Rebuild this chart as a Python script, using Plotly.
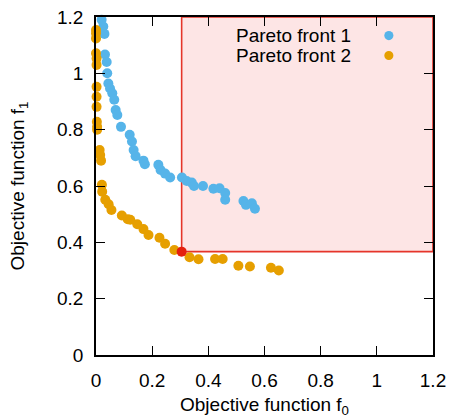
import plotly.graph_objects as go

# Pareto front 1 (blue)
front1_f0 = [0.02, 0.026, 0.03, 0.032, 0.038, 0.04, 0.044, 0.05, 0.058, 0.065, 0.07, 0.076, 0.089,
             0.12, 0.128, 0.134, 0.141, 0.169, 0.174, 0.222, 0.23, 0.246, 0.264, 0.306, 0.323,
             0.341, 0.349, 0.381, 0.418, 0.44, 0.46, 0.46, 0.525, 0.534, 0.555, 0.566]
front1_f1 = [1.19, 1.166, 1.14, 1.067, 1.04, 1.0, 0.964, 0.946, 0.929, 0.906, 0.87, 0.852, 0.81,
             0.782, 0.758, 0.728, 0.706, 0.69, 0.677, 0.675, 0.657, 0.644, 0.63, 0.63, 0.618,
             0.612, 0.6, 0.6, 0.59, 0.592, 0.575, 0.551, 0.547, 0.533, 0.539, 0.519]

# Pareto front 2 (orange)
front2_f0 = [0.0, 0.0, 0.0, 0.0, 0.002, 0.002, 0.002, 0.002, 0.002, 0.003, 0.004, 0.004, 0.013,
             0.015, 0.018, 0.021, 0.022, 0.033, 0.045, 0.055, 0.092, 0.113, 0.122, 0.147, 0.169,
             0.187, 0.226, 0.246, 0.279, 0.333, 0.365, 0.424, 0.451, 0.507, 0.548, 0.623, 0.651]
front2_f1 = [1.154, 1.142, 1.124, 1.071, 1.053, 1.03, 0.952, 0.917, 0.881, 0.828, 0.81, 0.80, 0.728,
             0.71, 0.69, 0.604, 0.58, 0.551, 0.535, 0.515, 0.495, 0.482, 0.48, 0.464, 0.447,
             0.426, 0.416, 0.395, 0.373, 0.347, 0.34, 0.341, 0.341, 0.317, 0.314, 0.31, 0.30]

# Reference point (corner of dominated region)
ref_f0 = [0.305]
ref_f1 = [0.367]

axis_max = 1.2
tick_vals = [0, 0.2, 0.4, 0.6, 0.8, 1, 1.2]
tick_text = ["0", "0.2", "0.4", "0.6", "0.8", "1", "1.2"]
series_names = ["Pareto front 1", "Pareto front 2"]

BLUE = "#56B4E9"
ORANGE = "#E69F00"
RED = "#E4200F"
FONT = "Liberation Sans, Arial, sans-serif"
FS = 19

fig = go.Figure()

fig.add_shape(type="rect", x0=ref_f0[0], y0=ref_f1[0], x1=axis_max, y1=axis_max,
              xref="x", yref="y", fillcolor="#FDE5E5",
              line=dict(color="#E5352A", width=1.6), layer="below")

fig.add_trace(go.Scatter(x=front1_f0, y=front1_f1, mode="markers", name=series_names[0],
                         marker=dict(color=BLUE, size=10, line=dict(width=0)), cliponaxis=False,
                         showlegend=False))
fig.add_trace(go.Scatter(x=front2_f0, y=front2_f1, mode="markers", name=series_names[1],
                         marker=dict(color=ORANGE, size=10, line=dict(width=0)), cliponaxis=False,
                         showlegend=False))
fig.add_trace(go.Scatter(x=ref_f0, y=ref_f1, mode="markers", name="reference",
                         marker=dict(color=RED, size=10, line=dict(width=0)), cliponaxis=False,
                         showlegend=False))

# Legend (gnuplot style: text then symbol), in paper coordinates
legend_y = [0.945, 0.886]
for name, col, ly in zip(series_names, [BLUE, ORANGE], legend_y):
    fig.add_annotation(x=0.762, y=ly, xref="paper", yref="paper", text=name, showarrow=False,
                       xanchor="right", yanchor="middle", font=dict(family=FONT, size=FS, color="black"))
    fig.add_shape(type="circle", xref="paper", yref="paper",
                  x0=0.869 - 0.0135, x1=0.869 + 0.0135, y0=ly - 0.0135, y1=ly + 0.0135,
                  fillcolor=col, line=dict(width=0))

axis_common = dict(range=[0, axis_max], tickvals=tick_vals, ticktext=tick_text,
                   showgrid=False, zeroline=False, showline=True, linecolor="black", linewidth=1.5,
                   mirror="ticks", ticks="inside", ticklen=9, tickwidth=1.2, tickcolor="black",
                   tickfont=dict(family=FONT, size=FS, color="black"), automargin=False)

fig.update_xaxes(**axis_common, ticklabelstandoff=7,
                 title=dict(text="Objective function f<sub>0</sub>", font=dict(family=FONT, size=FS, color="black"),
                            standoff=8))
fig.update_yaxes(**axis_common, ticklabelstandoff=7,
                 title=dict(text="Objective function f<sub>1</sub>", font=dict(family=FONT, size=FS, color="black"),
                            standoff=27))

fig.update_layout(width=451, height=419, margin=dict(l=96, r=18, t=17, b=64),
                  plot_bgcolor="white", paper_bgcolor="white", font=dict(family=FONT))

fig.write_html("out.html")
